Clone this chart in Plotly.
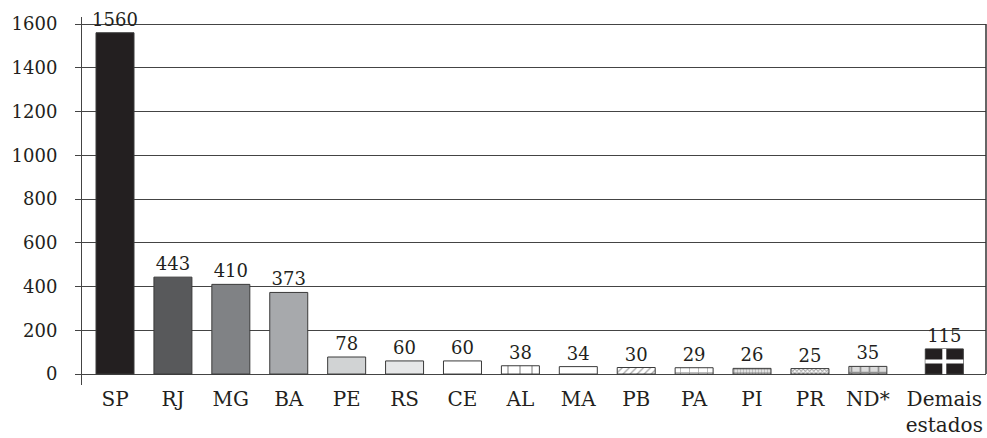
import plotly.graph_objects as go

categories = ["SP", "RJ", "MG", "BA", "PE", "RS", "CE", "AL", "MA", "PB", "PA", "PI", "PR", "ND*", "Demais<br>estados"]
values = [1560, 443, 410, 373, 78, 60, 60, 38, 34, 30, 29, 26, 25, 35, 115]
y_ticks = [0, 200, 400, 600, 800, 1000, 1200, 1400, 1600]

colors = ["#231f20", "#58595b", "#808285", "#a7a9ac", "#d1d3d4", "#e6e7e8", "#ffffff",
          "#ffffff", "#ffffff", "#ffffff", "#ffffff", "#ffffff", "#ffffff", "#dcdcdc", "#231f20"]
shapes_p = ["", "", "", "", "", "", "", "|", "", "/", "+", ".", "x", "+", ""]
fgc = ["#000", "#000", "#000", "#000", "#000", "#000", "#000", "#333333", "#000", "#333333",
       "#555555", "#555555", "#333333", "#888888", "#000"]
sizes = [8, 8, 8, 8, 8, 8, 8, 12, 8, 5, 9, 3, 3, 9, 8]
solid = [0.3, 0.3, 0.3, 0.3, 0.3, 0.3, 0.3, 0.12, 0.3, 0.25, 0.15, 0.6, 0.5, 0.35, 0.3]

FONT = "DejaVu Serif"
BW = 0.656
LAST_GAP = 0.32  # extra space before the "Demais estados" group

x = [float(k) for k in range(len(categories))]
x[-1] += LAST_GAP

fig = go.Figure(go.Bar(
    x=x, y=values,
    width=BW,
    marker=dict(color=colors, line=dict(color="#3a3a3a", width=1),
                pattern=dict(shape=shapes_p, fgcolor=fgc, size=sizes,
                             solidity=solid, fillmode="overlay")),
    text=[str(v) for v in values], textposition="outside",
    constraintext="none",
    textfont=dict(family=FONT, size=18, color="#231f20"),
    cliponaxis=False,
))

# white cross on the last ("Demais estados") bar, derived from its value
i = len(values) - 1
fig.add_trace(go.Scatter(
    x=[x[i], x[i], None, x[i] - BW / 2, x[i] + BW / 2],
    y=[0, values[i], None, values[i] / 2, values[i] / 2],
    mode="lines", line=dict(color="white", width=4), hoverinfo="skip",
))

fig.update_layout(
    width=987, height=438,
    margin=dict(l=82, r=1, t=17, b=53),
    plot_bgcolor="white", paper_bgcolor="white",
    showlegend=False,
    font=dict(family=FONT, size=18, color="#231f20"),
    xaxis=dict(type="linear", tickmode="array", tickvals=x, ticktext=categories, tickangle=0,
               range=[-0.57, 15.04], showgrid=False, showline=False, ticks="",
               zeroline=False, automargin=False, tickfont=dict(family=FONT, size=20)),
    yaxis=dict(range=[-50, 1632], tickvals=y_ticks, showgrid=True, gridcolor="#444444",
               gridwidth=1, showline=True, linecolor="#444444", linewidth=1,
               ticks="outside", ticklen=6, tickcolor="#444444", zeroline=False,
               automargin=False, ticklabelstandoff=14,
               tickfont=dict(family=FONT, size=18)),
    shapes=[dict(type="line", xref="paper", yref="y", x0=1, x1=1, y0=0, y1=1600,
                 line=dict(color="#333333", width=1.5))],
)

fig.write_html(
    "out.html",
    config={"displayModeBar": False},
    post_script="document.body.style.margin='0';document.body.style.overflow='hidden';",
)
